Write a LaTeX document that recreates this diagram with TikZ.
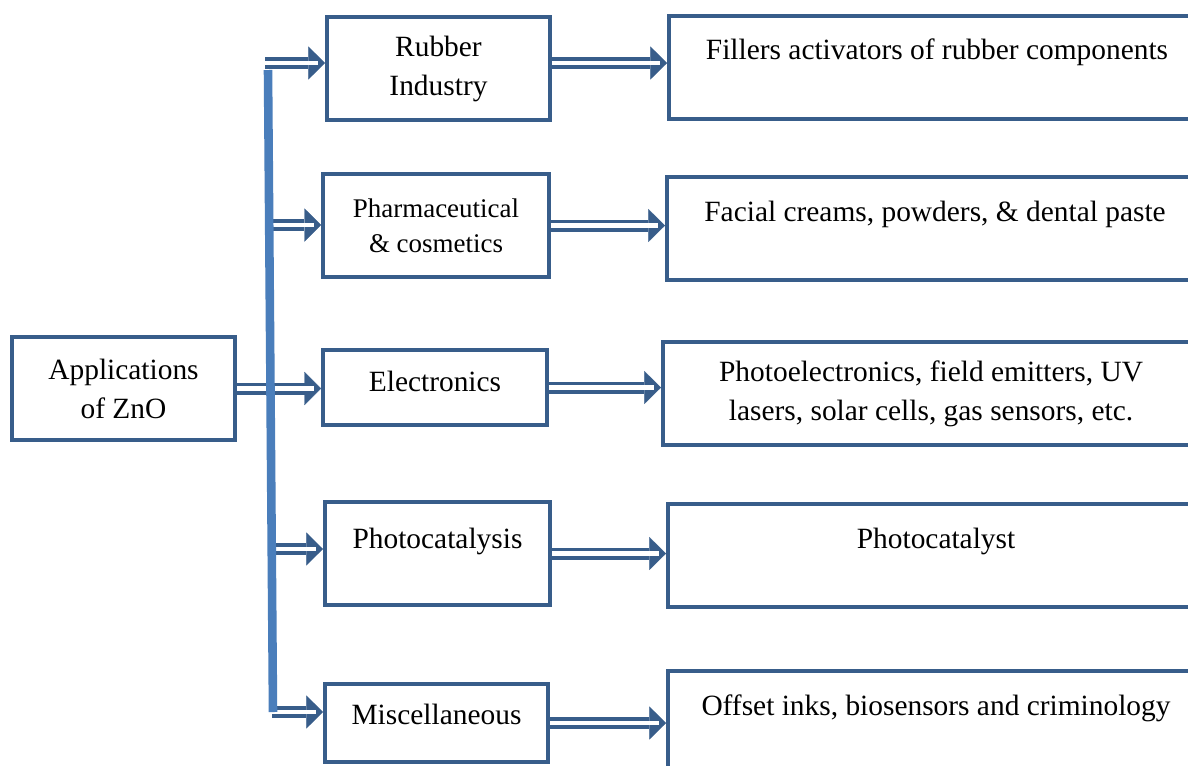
\documentclass[tikz,border=0pt]{standalone}
\usepackage{fontspec}
\setmainfont{Liberation Serif}
\usetikzlibrary{arrows.meta}
\definecolor{znoblue}{HTML}{385D8A}
\definecolor{znotrunk}{HTML}{4A7EBB}

\begin{document}
\begin{tikzpicture}[
    x=0.01435cm, y=-0.01435cm,
    box/.style={rectangle, draw=znoblue, line width=1.6pt, minimum width=3.2cm, minimum height=1.48cm, align=center, inner sep=0pt, font=\fontsize{12}{15.9}\selectfont},
    wide/.style={rectangle, draw=znoblue, line width=1.6pt, minimum width=7.69cm, minimum height=1.48cm, anchor=north west, align=center, font=\fontsize{12}{15.9}\selectfont},
    txt/.style={align=center, inner sep=0pt, font=\fontsize{12}{15.9}\selectfont},
    arr/.style={draw=znoblue, line width=4.9pt, -{Triangle[length=6.8pt, width=13.5pt, line width=0.1pt]},
        postaction={draw=white, line width=1.7pt, shorten >=3pt, -}},
    trunk/.style={znotrunk, line width=3.5pt}
]
\useasboundingbox (0,0) rectangle (1188,765);
\clip (0,0) rectangle (1188,765);

% left and middle column
\node[box] (app) at (123.5,388.5) {Applications\\of ZnO};
\node[box] (rub) at (438.5,68.5) {Rubber\\Industry};
\node[box, minimum width=3.24cm, font=\fontsize{11}{14.3}\selectfont] (pha) at (436,225.5) {Pharmaceutical\\\& cosmetics};
\node[box, minimum width=3.21cm, minimum height=1.08cm, text depth=0.17cm] (ele) at (435,387.5) {Electronics};
\node[box, minimum width=3.23cm, text depth=0.45cm] (pho) at (437.5,553.5) {Photocatalysis};
\node[box, minimum height=1.13cm, text depth=0.26cm] (mis) at (436.5,723) {Miscellaneous};

% right column (runs off the page)
\node[wide] (fil) at (667,14) {};
\node[txt] (filtxt) at ([yshift=-0.545cm]fil.north) {Fillers activators of rubber components};
\node[wide] (fac) at (665,175) {};
\node[txt] (factxt) at ([yshift=-0.56cm]fac.north) {Facial creams, powders, \& dental paste};
\node[wide] (pel) at (661,340) {Photoelectronics, field emitters, UV\\lasers, solar cells, gas sensors, etc.};
\node[wide] (pca) at (666,502) {};
\node[txt] (pcatxt) at ([yshift=-0.57cm]pca.north) {Photocatalyst};
\node[wide] (off) at (666,669) {};
\node[txt] (offtxt) at ([yshift=-0.57cm]off.north) {Offset inks, biosensors and criminology};

% trunk
\coordinate (t1) at (265,63);
\coordinate (t2) at (273,225);
\coordinate (t4) at (272,549);
\coordinate (t5) at (272,712);
\coordinate (ttop) at (268,70);
\coordinate (tbot) at (273,712);

\draw[arr] (t1) -- (t1 -| rub.west);
\draw[arr] (rub.east |- t1) -- (t1 -| fil.west);
\draw[arr] (t2) -- (t2 -| pha.west);
\draw[arr] (pha.east) -- (pha.east -| fac.west);
\draw[arr] (app.east) -- (app.east -| ele.west);
\draw[arr] (ele.east) -- (ele.east -| pel.west);
\draw[arr] (t4) -- (t4 -| pho.west);
\draw[arr] (pho.east) -- (pho.east -| pca.west);
\draw[arr] (t5) -- (t5 -| mis.west);
\draw[arr] (mis.east) -- (mis.east -| off.west);

\draw[trunk] (ttop) -- (tbot);
\end{tikzpicture}
\end{document}
